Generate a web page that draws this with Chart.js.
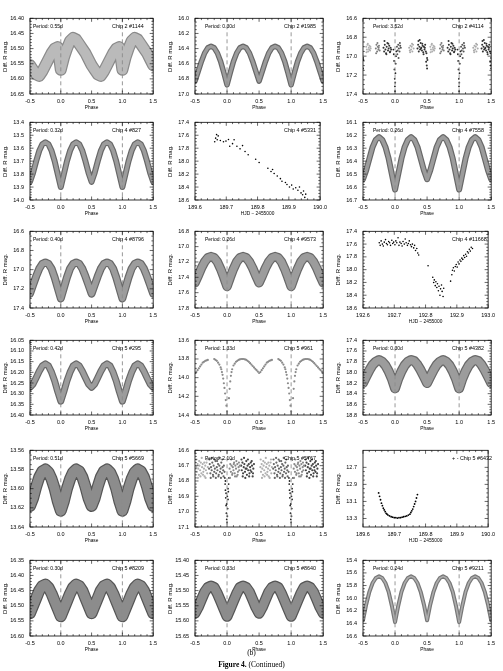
<!DOCTYPE html>
<html><head><meta charset="utf-8">
<script src="https://cdn.jsdelivr.net/npm/chart.js@4.4.1/dist/chart.umd.min.js"></script>
<style>
body{margin:0;background:#fff;width:503px;height:671px;position:relative;overflow:hidden;}
canvas{position:absolute;}
.cap{position:absolute;left:0;width:503px;text-align:center;font-family:"Liberation Serif","Times New Roman",serif;font-size:7.5px;color:#000;line-height:9px;will-change:transform;}
</style></head><body>
<div class="cap" style="top:648px">(b)</div>
<div class="cap" style="top:660px"><b>Figure 4.</b> (Continued)</div>
<script>
// ---------------- DATA ----------------
const phaseGrid = [0.00,0.05,0.10,0.15,0.20,0.25,0.30,0.35,0.40,0.45,0.50,0.55,0.60,0.65,0.70,0.75,0.80,0.85,0.90,0.95];
const dashPhases = [0, 1];
const periods = ['0.55d','0.30d','3.52d','0.32d',null,'0.26d','0.40d','0.26d',null,'0.42d','1.33d','0.30d','0.51d','2.10d',null,'0.30d','0.33d','0.24d'];
const chips = ['Chip 2 #1144','Chip 2 #1985','Chip 2 #4114','Chip 4 #827','Chip 4 #5331','Chip 4 #7558','Chip 4 #8796','Chip 4 #9573','Chip 4 #11668','Chip 5 #295','Chip 5 #961','Chip 5 #4382','Chip 5 #5669','Chip 5 #5767','+ - Chip 5 #6432','Chip 5 #8209','Chip 5 #8640','Chip 5 #9211'];
const yMins  = [16.40,16.0,16.6,13.4,17.4,16.1,16.6,16.8,17.4,16.05,13.6,17.4,13.56,16.6,12.5,16.35,15.40,15.4];
const yMaxs  = [16.65,17.0,17.4,14.0,18.6,16.7,17.4,17.8,18.6,16.40,14.4,18.8,13.64,17.1,13.4,16.60,15.65,16.6];
const ySteps = [0.05,0.2,0.2,0.1,0.2,0.1,0.2,0.2,0.2,0.05,0.2,0.2,0.02,0.1,0.2,0.05,0.05,0.2];
const phaseTicks = [-0.5, 1.5, 0.5];
const hjdTicks = [189.6, 190.0, 0.1];
const hjdTicks2 = [192.6, 193.0, 0.1];
const ticks6432 = [12.7, 12.9, 13.1, 13.3];

// mean light curves on phaseGrid
const mag1144 = [16.57,16.53,16.50,16.475,16.465,16.47,16.485,16.50,16.515,16.535,16.555,16.57,16.585,16.59,16.575,16.555,16.535,16.515,16.50,16.495];
const mag1985 = [16.88,16.72,16.57,16.46,16.39,16.37,16.39,16.46,16.57,16.70,16.83,16.70,16.57,16.46,16.39,16.37,16.39,16.46,16.57,16.72];
const mag827  = [13.90,13.80,13.70,13.62,13.57,13.555,13.57,13.62,13.70,13.79,13.86,13.79,13.70,13.62,13.57,13.555,13.57,13.62,13.70,13.80];
const mag7558 = [16.62,16.50,16.38,16.29,16.235,16.215,16.235,16.29,16.38,16.47,16.54,16.47,16.38,16.29,16.235,16.215,16.235,16.29,16.38,16.50];
const mag8796 = [17.30,17.19,17.08,16.99,16.94,16.925,16.94,16.99,17.07,17.16,17.25,17.16,17.07,16.99,16.94,16.925,16.94,16.99,17.08,17.19];
const mag9573 = [17.52,17.40,17.29,17.20,17.145,17.13,17.145,17.20,17.28,17.38,17.47,17.38,17.28,17.20,17.145,17.13,17.145,17.20,17.29,17.40];
const mag295  = [16.335,16.29,16.24,16.20,16.17,16.16,16.17,16.195,16.225,16.255,16.27,16.255,16.225,16.195,16.17,16.16,16.17,16.20,16.24,16.29];
const mag4382 = [18.30,18.12,17.98,17.87,17.80,17.77,17.79,17.86,17.96,18.08,18.20,18.08,17.96,17.86,17.80,17.77,17.80,17.87,17.98,18.12];
const mag5669 = [13.623,13.613,13.600,13.590,13.583,13.580,13.582,13.588,13.598,13.610,13.618,13.610,13.598,13.588,13.582,13.580,13.583,13.590,13.600,13.613];
const mag8209 = [16.535,16.51,16.485,16.46,16.44,16.43,16.435,16.45,16.475,16.50,16.525,16.50,16.475,16.45,16.435,16.43,16.44,16.46,16.485,16.51];
const mag8640 = [15.585,15.56,15.535,15.51,15.49,15.485,15.49,15.505,15.53,15.555,15.575,15.555,15.53,15.505,15.49,15.485,15.49,15.51,15.535,15.56];
const mag9211 = [16.38,16.12,15.90,15.76,15.68,15.655,15.68,15.76,15.90,16.10,16.35,16.10,15.90,15.76,15.68,15.655,15.68,15.76,15.90,16.12];

// Chip 2 #4114 clumps (phase, mag)
const ph4114a = [0.55,0.56,0.57,0.58,0.59,0.60,0.61,0.62,0.555,0.575,0.595,0.615];
const mg4114a = [16.90,16.93,16.88,16.95,16.91,16.89,16.94,16.92,16.96,16.87,16.93,16.90];
const ph4114b = [0.70,0.71,0.72,0.73,0.74,0.75,0.76,0.705,0.725,0.745];
const mg4114b = [16.92,16.88,16.95,16.90,16.93,16.89,16.94,16.97,16.86,16.91];
const ph4114c = [0.82,0.83,0.84,0.85,0.86,0.87,0.88,0.89,0.90,0.91,0.92,0.93,0.94,0.835,0.865,0.895,0.925];
const mg4114c = [16.91,16.95,16.88,16.93,16.97,16.90,16.86,16.94,16.92,16.89,16.96,16.91,16.93,16.84,16.98,16.87,16.95];
const ph4114e = [0.975,0.98,0.985,0.99,0.995,0.998,0.0,0.003,0.006,0.01,0.015,0.02];
const mg4114e = [16.93,16.98,17.05,17.14,17.24,17.32,17.37,17.28,17.18,17.08,17.00,16.95];
const ph4114d = [0.03,0.04,0.05,0.06,0.07,0.08,0.09,0.035,0.055,0.075];
const mg4114d = [16.90,16.94,16.88,16.92,16.95,16.89,16.91,16.98,17.02,16.86];
const ph4114f = [0.22,0.23,0.24,0.25,0.26,0.27,0.28,0.29,0.235,0.265];
const mg4114f = [16.91,16.94,16.89,16.93,16.90,16.95,16.88,16.92,16.96,16.87];
const ph4114g = [0.35,0.36,0.37,0.38,0.39,0.40,0.41,0.42,0.43,0.44,0.45,0.46,0.47,0.48,0.49,0.50,0.365,0.385,0.405,0.425,0.445,0.465,0.485,0.495,0.50,0.505];
const mg4114g = [16.92,16.88,16.95,16.90,16.93,16.86,16.91,16.94,16.89,16.96,16.90,16.93,16.88,16.95,16.97,17.02,16.84,16.83,16.92,16.87,16.98,16.91,17.06,17.10,17.13,17.04];

// Chip 4 #5331 time series
const hjd5331 = [189.663,189.666,189.669,189.671,189.674,189.681,189.691,189.699,189.707,189.711,189.720,189.725,189.734,189.744,189.752,189.760,189.770,189.794,189.805,189.833,189.843,189.848,189.853,189.863,189.873,189.878,189.889,189.894,189.902,189.909,189.914,189.922,189.929,189.934,189.939,189.944,189.947,189.951,189.954];
const mag5331 = [17.70,17.645,17.59,17.67,17.61,17.68,17.70,17.69,17.665,17.77,17.73,17.67,17.77,17.81,17.76,17.85,17.90,17.97,18.02,18.11,18.16,18.13,18.19,18.23,18.27,18.31,18.33,18.36,18.40,18.37,18.43,18.41,18.45,18.40,18.49,18.52,18.46,18.56,18.51];

// Chip 4 #11668 time series
const hjd11668 = [192.652,192.655,192.658,192.662,192.665,192.668,192.672,192.675,192.678,192.682,192.685,192.688,192.692,192.695,192.698,192.702,192.705,192.708,192.712,192.715,192.718,192.722,192.725,192.728,192.732,192.735,192.738,192.742,192.745,192.748,192.752,192.755,192.758,192.762,192.765,192.768,192.772,192.775,192.778,
 192.808,
 192.823,192.826,192.828,192.831,192.833,192.836,192.838,192.841,192.843,192.846,192.848,192.851,192.853,192.856,192.858,
 192.880,192.884,192.886,192.889,192.892,192.895,192.898,192.901,192.904,192.907,192.910,192.913,192.916,192.919,192.922,192.925,192.928,192.931,192.934,192.937,192.940,192.943,192.946,192.950];
const mag11668 = [17.58,17.62,17.55,17.60,17.63,17.57,17.53,17.59,17.61,17.56,17.58,17.62,17.54,17.59,17.57,17.61,17.55,17.58,17.50,17.62,17.57,17.59,17.63,17.56,17.60,17.52,17.58,17.62,17.59,17.55,17.61,17.64,17.60,17.66,17.62,17.70,17.67,17.74,17.77,
 17.94,
 18.12,18.20,18.16,18.25,18.19,18.28,18.22,18.33,18.26,18.40,18.30,18.24,18.34,18.42,18.29,
 18.18,18.08,18.01,17.97,18.02,17.95,17.92,17.96,17.88,17.91,17.85,17.87,17.82,17.84,17.78,17.81,17.76,17.79,17.72,17.74,17.68,17.71,17.65,17.67];

// Chip 5 #961
const ph961 = [0.0,0.03,0.04,0.05,0.06,0.07,0.08,0.10,0.12,0.14,0.16,0.18,0.20,0.22,0.24,0.26,0.28,0.30,0.32,0.34,0.36,0.38,0.40,0.42,0.44,0.46,0.48,0.50,
 0.52,0.54,0.56,0.58,0.60,0.62,0.64,0.66,0.68,0.70,
 0.80,0.82,0.84,0.86,0.88,0.90,0.91,0.92,0.93,0.94,0.95,0.96,0.97,0.98,0.99];
const mg961 = [14.36,14.22,14.12,14.04,13.98,13.94,13.91,13.87,13.85,13.83,13.82,13.81,13.805,13.80,13.80,13.80,13.805,13.81,13.82,13.83,13.845,13.86,13.875,13.89,13.905,13.92,13.935,13.95,
 13.94,13.92,13.90,13.88,13.86,13.84,13.83,13.82,13.815,13.81,
 13.80,13.81,13.82,13.84,13.86,13.89,13.91,13.94,13.97,14.01,14.06,14.11,14.17,14.24,14.30];

// Chip 5 #5767 clumps
const ph5767a = [0.04,0.05,0.06,0.07,0.08,0.09,0.10,0.11,0.12,0.13,0.14,0.15,0.16,0.17,0.18,0.19,0.20,0.045,0.065,0.085,0.105,0.125,0.145,0.165,0.185];
const mg5767a = [16.72,16.69,16.74,16.70,16.76,16.71,16.73,16.68,16.75,16.70,16.72,16.77,16.69,16.74,16.71,16.73,16.70,16.78,16.66,16.75,16.69,16.77,16.67,16.76,16.68];
const ph5767b = [0.22,0.23,0.24,0.25,0.26,0.27,0.28,0.29,0.30,0.31,0.32,0.33,0.34,0.35,0.36,0.37,0.38,0.39,0.40,0.41,0.42,0.225,0.245,0.265,0.285,0.305,0.325,0.345,0.365,0.385,0.405];
const mg5767b = [16.70,16.73,16.68,16.75,16.71,16.69,16.74,16.72,16.67,16.76,16.70,16.73,16.69,16.75,16.71,16.68,16.74,16.70,16.77,16.72,16.69,16.66,16.77,16.65,16.78,16.72,16.66,16.77,16.73,16.67,16.75];
const ph5767c = [0.52,0.53,0.54,0.55,0.56,0.57,0.58,0.59,0.60,0.61,0.62,0.63,0.64,0.65,0.66,0.67,0.68,0.69,0.70,0.525,0.545,0.565,0.585,0.605,0.625,0.645,0.665,0.685];
const mg5767c = [16.71,16.74,16.69,16.72,16.76,16.70,16.73,16.68,16.75,16.71,16.69,16.74,16.72,16.77,16.70,16.73,16.68,16.75,16.71,16.66,16.78,16.67,16.77,16.65,16.76,16.68,16.78,16.66];
const ph5767d = [0.72,0.73,0.74,0.75,0.76,0.77,0.78,0.79,0.80,0.81,0.82,0.83,0.84,0.85,0.86,0.87,0.88,0.89,0.90,0.91,0.92,0.93,0.94,0.95,0.96,0.725,0.745,0.765,0.785,0.805,0.825,0.845,0.865,0.885,0.905,0.925,0.945];
const mg5767d = [16.72,16.69,16.75,16.71,16.73,16.68,16.76,16.70,16.74,16.72,16.67,16.75,16.71,16.73,16.69,16.76,16.70,16.74,16.72,16.68,16.75,16.71,16.73,16.70,16.74,16.66,16.78,16.65,16.77,16.66,16.78,16.67,16.77,16.65,16.78,16.66,16.77];
const ph5767e = [0.965,0.97,0.975,0.98,0.985,0.99,0.995,0.0,0.005,0.01,0.015,0.02,0.025,0.03,0.975,0.985,0.995,0.005,0.015];
const mg5767e = [16.78,16.82,16.86,16.91,16.96,17.01,17.05,17.07,17.03,16.98,16.92,16.87,16.82,16.78,16.80,16.88,16.95,16.90,16.85];

// Chip 5 #6432 time series
const hjd6432 = [189.650,189.653,189.656,189.659,189.662,189.665,189.668,189.671,189.674,189.677,189.680,189.685,189.690,189.695,189.700,189.705,189.710,189.715,189.720,189.725,189.730,189.735,189.740,189.745,189.750,189.753,189.756,189.759,189.762,189.765,189.768,189.771,189.774];
const mag6432 = [13.00,13.04,13.08,13.12,13.15,13.18,13.20,13.22,13.24,13.25,13.26,13.27,13.28,13.285,13.29,13.29,13.295,13.29,13.29,13.285,13.28,13.275,13.27,13.26,13.25,13.23,13.21,13.19,13.16,13.13,13.10,13.06,13.02];

// ---------------- BUILD ----------------
const FONT = '"Liberation Sans", Arial, Helvetica, sans-serif';
const cols = [[30,155],[195,325],[363,493]];
const rows = [[13,94],[117,200],[226,308],[335,415],[445,527],[555,636]];
const L = 30, T = 4, R = 6, B = 18;

function fold(ph, mg){
  const out = [];
  for (const k of [-1,0,1]) for (let i=0;i<ph.length;i++){
    const x = ph[i]+k;
    if (x >= -0.5-1e-9 && x <= 1.5+1e-9) out.push({x, y: mg[i]});
  }
  out.sort((a,b)=>a.x-b.x);
  return out;
}
function pairs(xs, ys){ return xs.map((x,i)=>({x, y: ys[i]})); }
function band(mags, w, outer, inner){
  const d = fold(phaseGrid, mags);
  return [
    {order:2, data:d, showLine:true, borderColor:outer||'#686868', borderWidth:w, pointRadius:0, tension:0, borderJoinStyle:'round', borderCapStyle:'round'},
    {order:1, data:d, showLine:true, borderColor:inner||'#9c9c9c', borderWidth:Math.max(1,w-2.4), pointRadius:0, tension:0, borderJoinStyle:'round', borderCapStyle:'round'}
  ];
}
function pts(data, color, r){
  return {data, showLine:false, pointRadius:r||1.0, pointBackgroundColor:color, pointBorderWidth:0, pointBorderColor:color};
}

const dsets = [
  band(mag1144, 12, '#8a8a8a', '#bababa'),
  band(mag1985, 5.5),
  [pts(fold(ph4114a,mg4114a),'#b0b0b0'), pts(fold(ph4114b,mg4114b),'#7c7c7c'), pts(fold(ph4114c,mg4114c),'#333'),
   pts(fold(ph4114e,mg4114e),'#222',0.9), pts(fold(ph4114d,mg4114d),'#555'), pts(fold(ph4114f,mg4114f),'#aaa'), pts(fold(ph4114g,mg4114g),'#333')],
  band(mag827, 6),
  [pts(pairs(hjd5331,mag5331),'#000',0.8)],
  band(mag7558, 6),
  band(mag8796, 8),
  band(mag9573, 9.5),
  [pts(pairs(hjd11668,mag11668),'#000',0.8)],
  band(mag295, 7),
  [pts(fold(ph961,mg961),'#8a8a8a',1.1)],
  band(mag4382, 10),
  band(mag5669, 12, '#555', '#8c8c8c'),
  [pts(fold(ph5767a,mg5767a),'#8a8a8a',1.1), pts(fold(ph5767b,mg5767b),'#444',1.1), pts(fold(ph5767c,mg5767c),'#b0b0b0',1.1),
   pts(fold(ph5767d,mg5767d),'#666',1.1), pts(fold(ph5767e,mg5767e),'#222',0.9)],
  [pts(pairs(hjd6432,mag6432),'#000',0.9)],
  band(mag8209, 12, '#555', '#8c8c8c'),
  band(mag8640, 11, '#555', '#8c8c8c'),
  band(mag9211, 4, '#777', '#adadad')
];
const kinds = ['ph','ph','ph','ph','hjd','ph','ph','ph','hjd2','ph','ph','ph','ph','ph','hjd','ph','ph','ph'];

function decimals(step){ return step < 0.1-1e-9 ? 2 : 1; }
function nMinor(step){ const s=Math.round(step*100); return (s===20||s===2) ? 4 : 5; }

const decor = {
  id:'decor',
  afterDatasetsDraw(chart, args, o){
    const {ctx, chartArea:a, scales:{x, y}} = chart;
    const i = o.idx, col = i % 3;
    ctx.save();
    if (kinds[i] === 'ph'){
      ctx.strokeStyle = '#8c8c8c'; ctx.lineWidth = 0.9; ctx.setLineDash([4,3]);
      for (const p of dashPhases){
        const px = x.getPixelForValue(p);
        ctx.beginPath(); ctx.moveTo(px, a.top); ctx.lineTo(px, a.bottom); ctx.stroke();
      }
      ctx.setLineDash([]);
    }
    ctx.strokeStyle = '#000'; ctx.lineWidth = 0.8;
    ctx.strokeRect(a.left, a.top, a.width, a.height);
    ctx.lineWidth = 0.6;
    const tickSet = (scale, horiz, step) => {
      const vals = scale.ticks.map(t => t.value);
      const n = nMinor(step);
      const mark = (v, len) => {
        const p = scale.getPixelForValue(v);
        ctx.beginPath();
        if (horiz){ ctx.moveTo(p, a.bottom); ctx.lineTo(p, a.bottom-len); ctx.moveTo(p, a.top); ctx.lineTo(p, a.top+len); }
        else { ctx.moveTo(a.left, p); ctx.lineTo(a.left+len, p); ctx.moveTo(a.right, p); ctx.lineTo(a.right-len, p); }
        ctx.stroke();
      };
      for (let k=0;k<vals.length;k++){
        mark(vals[k], 3.5);
        if (k < vals.length-1){
          const st = (vals[k+1]-vals[k])/n;
          for (let m=1;m<n;m++) mark(vals[k]+m*st, 1.8);
        }
      }
    };
    tickSet(x, true, kinds[i]==='ph' ? 0.5 : 0.1);
    tickSet(y, false, ySteps[i]);
    ctx.fillStyle = '#000';
    ctx.textBaseline = 'middle';
    if (periods[i]){
      ctx.font = '5px ' + FONT;
      ctx.textAlign = 'left';
      ctx.fillText('Period: ' + periods[i], a.left + (col===0 ? 3 : 10), a.top + 8);
    }
    ctx.font = '5.4px ' + FONT;
    ctx.textAlign = 'left';
    ctx.fillText(chips[i], a.left + (col===0 ? 82 : 89), a.top + 8);
    ctx.restore();
  }
};

for (let i=0;i<18;i++){
  const c = cols[i%3], r = rows[Math.floor(i/3)];
  const W = (c[1]-c[0]) + L + R, H = (r[1]-r[0]) + T + B;
  const cv = document.createElement('canvas');
  cv.width = W; cv.height = H;
  cv.style.left = (c[0]-L) + 'px'; cv.style.top = (r[0]-T) + 'px';
  cv.style.width = W + 'px'; cv.style.height = H + 'px';
  document.body.appendChild(cv);
  const k = kinds[i];
  const xr = k==='ph' ? phaseTicks : (k==='hjd' ? hjdTicks : hjdTicks2);
  const yd = decimals(ySteps[i]);
  const yTicks = {
    stepSize: ySteps[i], autoSkip:false, color:'#000', padding:6,
    font:{size:5.5, family:FONT},
    callback: v => Number(v).toFixed(yd)
  };
  const yScale = {
    type:'linear', reverse:true, min:yMins[i], max:yMaxs[i],
    ticks: yTicks,
    grid:{display:false, drawTicks:false}, border:{display:false},
    title:{display:true, text:'Diff. R mag.', color:'#000', font:{size:6, family:FONT}, padding:{top:2, bottom:0}},
    afterFit(s){ s.width = L; }
  };
  if (i === 14){
    yScale.afterBuildTicks = s => { s.ticks = ticks6432.map(v => ({value:v})); };
  }
  new Chart(cv, {
    type:'scatter',
    data:{datasets: dsets[i]},
    options:{
      responsive:false, animation:false, devicePixelRatio:1,
      layout:{padding:{top:T, right:R, left:0, bottom:0}},
      plugins:{legend:{display:false}, tooltip:{enabled:false}, decor:{idx:i}},
      scales:{
        x:{
          type:'linear', min:xr[0], max:xr[1],
          ticks:{stepSize:xr[2], autoSkip:false, maxRotation:0, color:'#000', padding:4,
                 font:{size:5.5, family:FONT}, callback: v => Number(v).toFixed(1)},
          grid:{display:false, drawTicks:false}, border:{display:false},
          title:{display:true, text: k==='ph' ? 'Phase' : 'HJD \u2212 2455000', color:'#000',
                 font:{size:4.8, family:FONT}, padding:{top:0, bottom:1}},
          afterFit(s){ s.height = B; }
        },
        y: yScale
      }
    },
    plugins:[decor]
  });
}
</script>
</body></html>
